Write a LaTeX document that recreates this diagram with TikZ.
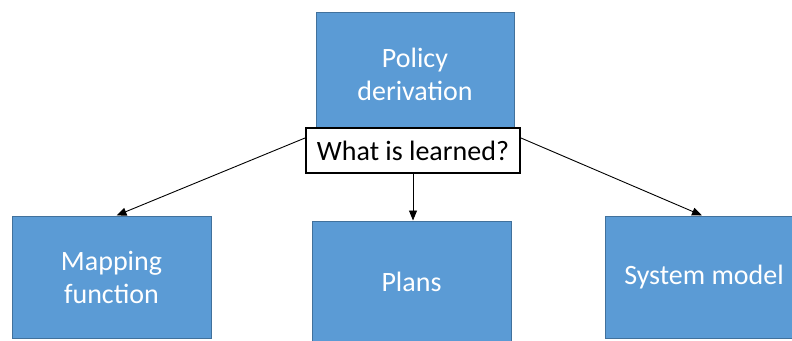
\documentclass[tikz,border=0pt]{standalone}
\usepackage{fontspec}
\setmainfont{Carlito}
\usetikzlibrary{arrows.meta}

\definecolor{boxfill}{HTML}{5B9BD5}
\definecolor{boxline}{HTML}{41719C}

\tikzset{
  bluebox/.style={rectangle, draw=boxline, line width=1pt, fill=boxfill,
    text=white, align=center, inner sep=0pt,
    font=\fontsize{28}{33}\selectfont},
  askbox/.style={rectangle, draw=black, line width=2pt, fill=white,
    text=black, inner sep=0pt, font=\fontsize{28}{33}\selectfont},
  link/.style={draw=black, line width=0.9pt,
    -{Triangle[length=10pt,width=8pt]}}
}

\begin{document}
\begin{tikzpicture}[x=1pt,y=-1pt]
  \useasboundingbox (0,0) rectangle (792,340);
  \clip (0,0) rectangle (792,340);

  % top box and the question label on top of it
  \node[bluebox, minimum width=198pt, minimum height=124pt] (policy) at (415,74)
    {Policy\\derivation};
  \node[askbox, minimum width=214pt, minimum height=45pt] (ask) at (413,150.5)
    {What is learned?};

  % the three kinds of learned output
  \node[bluebox, minimum width=199pt, minimum height=122pt] (mapping) at (111.5,277)
    {Mapping\\function};
  \node[bluebox, minimum width=199pt, minimum height=122pt] (plans) at (411.5,282)
    {Plans};
  \node[bluebox, minimum width=198pt, minimum height=122pt] (system) at (704,277)
    {System model};

  % connectors
  \draw[link] ([yshift=12.5pt]ask.west) -- ([xshift=5pt]mapping.north);
  \draw[link] (ask.south) -- (ask.south |- plans.north);
  \draw[link] ([yshift=12.5pt]ask.east) -- ([xshift=-2pt]system.north);
\end{tikzpicture}
\end{document}
